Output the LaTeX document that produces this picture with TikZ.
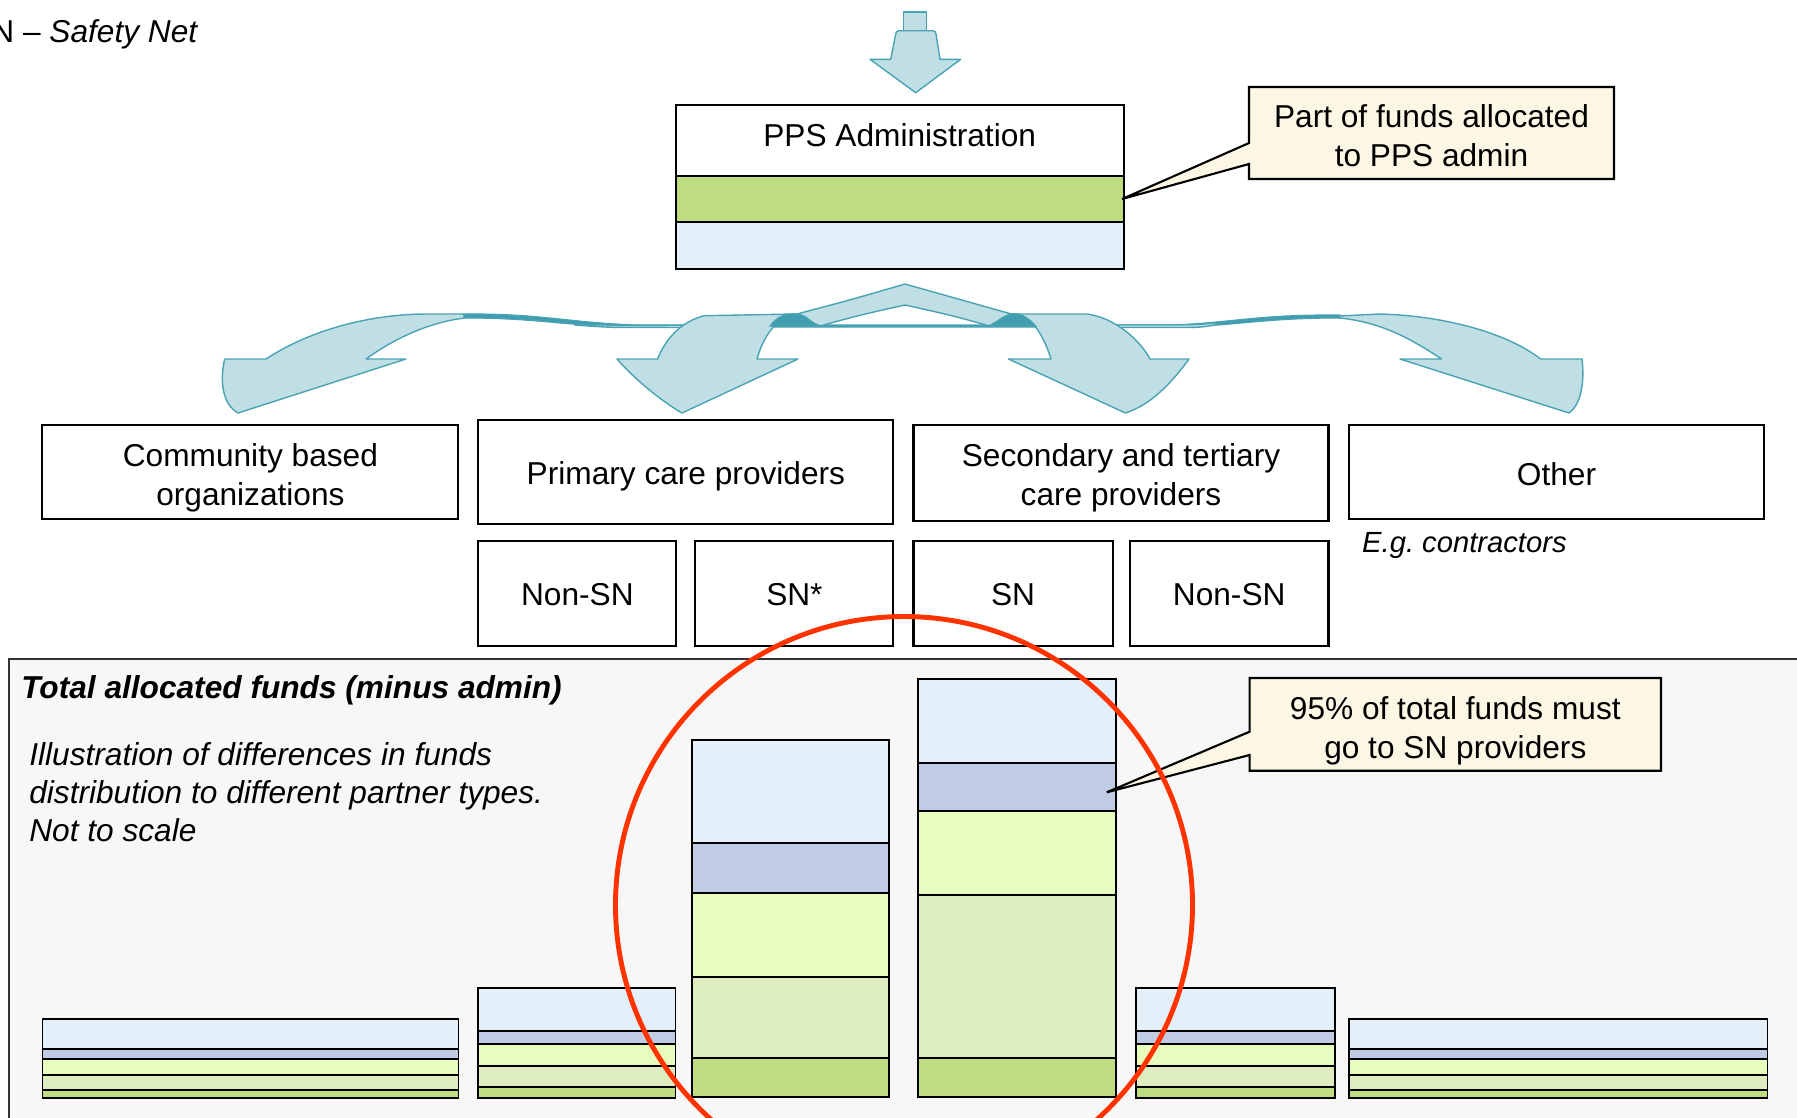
\documentclass[tikz,border=0pt]{standalone}
\usepackage{fontspec}
\setmainfont{Liberation Sans}
\usetikzlibrary{fit}
\frenchspacing
\definecolor{cLB}{RGB}{227,239,249}
\definecolor{cBG}{RGB}{192,204,227}
\definecolor{cLime}{RGB}{232,253,189}
\definecolor{cPale}{RGB}{222,237,193}
\definecolor{cGreen}{RGB}{190,220,128}
\definecolor{cFlow}{RGB}{191,223,228}
\definecolor{cFlowLine}{RGB}{74,163,180}
\definecolor{cFlowDark}{RGB}{64,158,176}
\definecolor{cCallout}{RGB}{252,246,228}
\definecolor{cPanel}{RGB}{247,247,247}
\definecolor{cRed}{RGB}{255,51,0}
\newcommand\fundbar[8]{%
  \filldraw[barline, fill=cLB] (#1,#3) rectangle (#2,#4);
  \filldraw[barline, fill=cBG] (#1,#4) rectangle (#2,#5);
  \filldraw[barline, fill=cLime] (#1,#5) rectangle (#2,#6);
  \filldraw[barline, fill=cPale] (#1,#6) rectangle (#2,#7);
  \filldraw[barline, fill=cGreen] (#1,#7) rectangle (#2,#8);
  \draw[barline] (#1,#3) rectangle (#2,#8);
}
\begin{document}
\begin{tikzpicture}[x=0.01cm,y=-0.01cm,
  every node/.style={font=\fontsize{9}{11}\selectfont},
  box/.style={draw=black, line width=0.6pt, fill=white, inner sep=0pt},
  btext/.style={align=center, inner sep=0pt},
  barline/.style={draw=black, line width=0.5pt},
  flow/.style={fill=cFlow, draw=cFlowLine, line width=0.4pt, line join=round},
  flowdark/.style={fill=cFlowDark, draw=cFlowLine, line width=0.3pt},
  callout/.style={fill=cCallout, draw=black, line width=0.6pt, line join=miter},
  ctext/.style={align=center, inner sep=0pt},
  note/.style={align=left, inner sep=0pt, anchor=west}]
\useasboundingbox (0,0) rectangle (1797,1117);
\clip (0,0) rectangle (1797,1117);

% header
\node[anchor=base east, inner sep=0pt] (hdr) at (199,42) {SN – \textit{Safety Net}};

% top arrow
\filldraw[flow] (903.3,12) rectangle (926.7,30.7);
\filldraw[flow] (899,30.7) -- (933,30.7) to[out=0,in=90] (936,34) -- (940,59.3) -- (960.7,59.3) -- (915.7,92.7) -- (870,59.3) -- (890.7,59.3) -- (895.7,34) to[out=90,in=180] (899,30.7) -- cycle;

% PPS administration box
\node[box, fit={(675.7,105.3) (1123.7,175.7)}] (ppsw) {};
\node[btext] (ppst) at (899.7,135) {PPS Administration};
\filldraw[box, fill=cGreen] (675.7,175.7) rectangle (1123.7,222);
\filldraw[box, fill=cLB] (675.7,222) rectangle (1123.7,269.3);
\coordinate (tipA) at (1122,199);

% callout 1
\filldraw[callout] (1249,87) -- (1614,87) -- (1614,179) -- (1249,179) -- (1249,164) -- (tipA) -- (1249,143) -- cycle;
\node[ctext] (c1) at (1431.5,136) {Part of funds allocated\\to PPS admin};

% flow ribbons: band
\filldraw[flowdark] (463,314) .. controls (540,313) and (570,323) .. (640,325) -- (1170,325) .. controls (1230,323) and (1260,314) .. (1340,315)
  -- (1340,318) .. controls (1260,318) and (1230,327) .. (1170,327) -- (640,327) .. controls (570,327) and (540,318) .. (465,318) -- cycle;
\filldraw[flow] (575,323.5) .. controls (610,326) and (640,325.5) .. (700,325) -- (700,327.5) -- (640,327.5) .. controls (610,327.5) .. (575,325) -- cycle;
\filldraw[flow] (1100,325) -- (1170,325) .. controls (1200,324.5) .. (1215,323) -- (1215,325) .. controls (1200,327.5) .. (1170,327.5) -- (1100,327.5) -- cycle;

% left arrow
\filldraw[flow] (427,314) -- (463,314) -- (465,318) .. controls (430,322) and (395,338) .. (366,359) -- (406,359) -- (238,413)
  .. controls (224,405) and (219,385) .. (224.6,359) -- (266,359) .. controls (310,330) and (370,314) .. (427,314) -- cycle;
% right arrow
\filldraw[flow] (1339.7,316) -- (1380,314) .. controls (1450,316) and (1510,335) .. (1540.6,359) -- (1582,359)
  .. controls (1585,385) and (1580,405) .. (1569,413) -- (1400,359) -- (1441.5,359) .. controls (1410,338) and (1380,322) .. (1339.7,318) -- cycle;

% central inverted V
\filldraw[flow] (793,315) .. controls (850,300) .. (905,284) .. controls (960,300) .. (1015,315) -- (990,326) .. controls (950,315) .. (905,305) .. controls (860,315) .. (820,326) -- cycle;

% mid-left arrow
\filldraw[flow] (704,315.7) -- (794,314) .. controls (775,318) and (762,340) .. (757,359) -- (798,359) -- (682,413)
  .. controls (668,405) and (640,385) .. (617,359) -- (657.6,359) .. controls (665,340) and (680,322) .. (704,315.7) -- cycle;
\filldraw[flowdark] (778,318) .. controls (786,313) and (798,312) .. (806,317) .. controls (812,322) and (816,325) .. (822,326) -- (770,326) .. controls (773,322) .. (778,318) -- cycle;

% mid-right arrow
\filldraw[flow] (1013.8,314) -- (1087.5,314) .. controls (1115,318) and (1140,340) .. (1150,359) -- (1189,359)
  .. controls (1170,385) and (1150,405) .. (1125.4,413) -- (1008.5,359) -- (1051,359) .. controls (1045,340) and (1035,320) .. (1020,315) -- cycle;
\filldraw[flowdark] (988,326) .. controls (998,322) and (1004,314) .. (1014,313.5) .. controls (1024,314) and (1030,320) .. (1036,326) -- cycle;

% partner boxes row 1
\node[box, fit={(42.4,425) (458.4,519)}] (cbo) {};
\node[btext] (cbot) at (250.4,477.5) {Community based\\organizations};
\node[box, fit={(478.4,420) (893.4,524)}] (pcp) {};
\node[btext] (pcpt) at (685.9,476) {Primary care providers};
\node[box, fit={(913.5,425) (1328.5,520.7)}] (stc) {};
\node[btext] (stct) at (1121,478) {Secondary and tertiary\\care providers};
\node[box, fit={(1349,425) (1764,519)}] (oth) {};
\node[btext] (otht) at (1556.5,474) {Other};
\node[note, font=\fontsize{8.3}{10}\selectfont\itshape] (eg) at (1361.5,545.5) {E.g. contractors};

% row 2
\node[box, fit={(478.4,541) (676.4,646)}] (pnon) {};
\node[btext] (pnont) at (577.4,595) {Non-SN};
\node[box, fit={(695.4,541) (893.4,646)}] (psn) {};
\node[btext] (psnt) at (794.4,595) {SN*};
\node[box, fit={(913.5,541) (1112.7,646)}] (ssn) {};
\node[btext] (ssnt) at (1013.1,595) {SN};
\node[box, fit={(1130,541) (1328.5,646)}] (snon) {};
\node[btext] (snont) at (1229.2,595) {Non-SN};

% bottom panel
\filldraw[fill=cPanel, draw=black!80, line width=0.5pt] (9,659) rectangle (1810,1130);
\node[note] (ttl) at (20.6,690.5) {\textbf{\textit{Total allocated funds (minus admin)}}};
\node[note, font=\fontsize{9}{10.9}\selectfont\itshape, anchor=north west] (ill) at (28.6,741.5) {Illustration of differences in funds\\distribution to different partner types.\\Not to scale};

% bars
\fundbar{42.4}{458.4}{1019.3}{1049.3}{1059}{1075}{1090}{1097.7}
\fundbar{477.7}{675.4}{987.7}{1031}{1044}{1066}{1087}{1097.7}
\fundbar{691.7}{889.3}{740.3}{843}{893.3}{977.3}{1058.3}{1097}
\fundbar{917.7}{1115.7}{679}{763.3}{810.7}{894.7}{1058.3}{1097}
\fundbar{1135.7}{1335.3}{987.7}{1031}{1044}{1066}{1087.3}{1097.7}
\fundbar{1349}{1767.4}{1019.3}{1049.3}{1059}{1075}{1090}{1097.7}
\coordinate (tipB) at (1106.7,792.3);

% callout 2
\filldraw[callout] (1249.6,678) -- (1661,678) -- (1661,770.7) -- (1249.6,770.7) -- (1249.6,755) -- (tipB) -- (1249.6,731.7) -- cycle;
\node[ctext] (c2) at (1455.3,731) {95\% of total funds must\\go to SN providers};

% red circle
\draw[cRed, line width=1.4pt] (904,905) circle[radius=288.5];
\end{tikzpicture}
\end{document}
